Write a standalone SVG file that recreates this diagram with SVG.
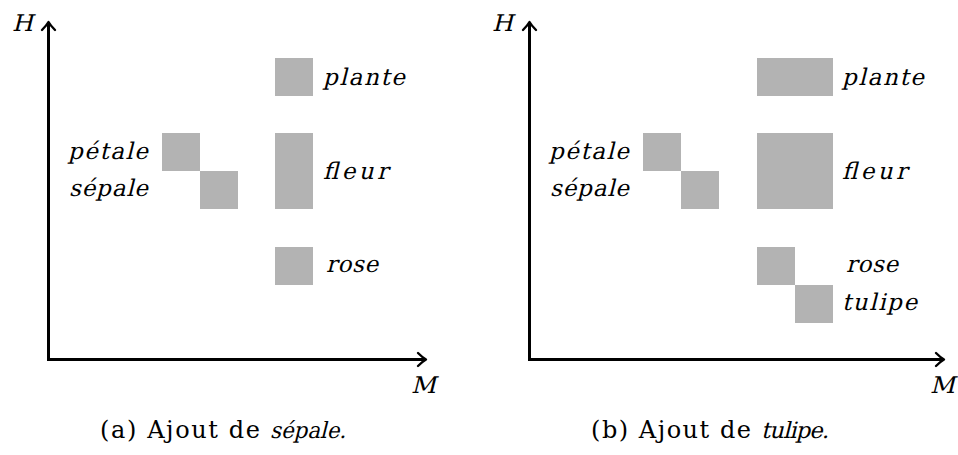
<svg xmlns="http://www.w3.org/2000/svg" width="958" height="455" viewBox="0 0 958 455">
<style>
.box{fill:#b3b3b3;stroke:none}
.lbl{font-family:'DejaVu Serif',serif;font-size:23px;fill:#000}
.cap{font-family:'DejaVu Serif',serif;font-size:24px;fill:#000}
.capi{font-family:'DejaVu Serif',serif;font-size:22.5px;fill:#000}
.axis{fill:none;stroke:#000;stroke-width:3;stroke-linejoin:miter;marker-start:url(#arr);marker-end:url(#arr)}
</style>
<defs>
<marker id="arr" markerUnits="userSpaceOnUse" viewBox="-10 -10 20 20" markerWidth="20" markerHeight="20" refX="0" refY="0" orient="auto-start-reverse" overflow="visible">
<path d="M-7,-6.5 Q-2.5,-2 1,0 Q-2.5,2 -7,6.5" fill="none" stroke="#000" stroke-width="2.4" stroke-linecap="round" stroke-linejoin="round"/>
</marker>
</defs>
<g id="connectors">
<path class="axis" d="M48.5,23 V359.5 H425"/>
<path class="axis" d="M529.5,23 V359.5 H943"/>
</g>
<g id="panel-a">
<text class="lbl" transform="translate(12,31) skewX(-14)" textLength="21" lengthAdjust="spacingAndGlyphs">H</text>
<text class="lbl" transform="translate(411,393) skewX(-14)" textLength="25" lengthAdjust="spacingAndGlyphs">M</text>
<g id="a-plante"><rect class="box" x="275" y="58" width="38" height="38"/><text class="lbl" transform="translate(323,85) skewX(-14)" textLength="82" lengthAdjust="spacing">plante</text></g>
<g id="a-petale"><rect class="box" x="162" y="133" width="38" height="38"/><text class="lbl" transform="translate(68,159) skewX(-14)" textLength="80" lengthAdjust="spacing">pétale</text></g>
<g id="a-sepale"><rect class="box" x="200" y="171" width="38" height="38"/><text class="lbl" transform="translate(69,196) skewX(-14)" textLength="79" lengthAdjust="spacing">sépale</text></g>
<g id="a-fleur"><rect class="box" x="275" y="133" width="38" height="76"/><text class="lbl" transform="translate(323,179) skewX(-14)" textLength="65" lengthAdjust="spacing">fleur</text></g>
<g id="a-rose"><rect class="box" x="275" y="247" width="38" height="38"/><text class="lbl" transform="translate(326,272) skewX(-14)" textLength="52" lengthAdjust="spacing">rose</text></g>
<text class="cap" x="100" y="438" textLength="160" lengthAdjust="spacing">(a) Ajout de</text>
<text class="capi" transform="translate(270,438) skewX(-14)" textLength="76" lengthAdjust="spacingAndGlyphs">sépale.</text>
</g>
<g id="panel-b">
<text class="lbl" transform="translate(492,31) skewX(-14)" textLength="21" lengthAdjust="spacingAndGlyphs">H</text>
<text class="lbl" transform="translate(930,393) skewX(-14)" textLength="25" lengthAdjust="spacingAndGlyphs">M</text>
<g id="b-plante"><rect class="box" x="757" y="58" width="76" height="38"/><text class="lbl" transform="translate(842,85) skewX(-14)" textLength="82" lengthAdjust="spacing">plante</text></g>
<g id="b-petale"><rect class="box" x="643" y="133" width="38" height="38"/><text class="lbl" transform="translate(549,159) skewX(-14)" textLength="80" lengthAdjust="spacing">pétale</text></g>
<g id="b-sepale"><rect class="box" x="681" y="171" width="38" height="38"/><text class="lbl" transform="translate(550,196) skewX(-14)" textLength="79" lengthAdjust="spacing">sépale</text></g>
<g id="b-fleur"><rect class="box" x="757" y="133" width="76" height="76"/><text class="lbl" transform="translate(842,179) skewX(-14)" textLength="65" lengthAdjust="spacing">fleur</text></g>
<g id="b-rose"><rect class="box" x="757" y="247" width="38" height="38"/><text class="lbl" transform="translate(846,272) skewX(-14)" textLength="52" lengthAdjust="spacing">rose</text></g>
<g id="b-tulipe"><rect class="box" x="795" y="285" width="38" height="38"/><text class="lbl" transform="translate(842,310) skewX(-14)" textLength="75" lengthAdjust="spacing">tulipe</text></g>
<text class="cap" x="591" y="438" textLength="160" lengthAdjust="spacing">(b) Ajout de</text>
<text class="capi" transform="translate(761,438) skewX(-14)" textLength="68" lengthAdjust="spacing">tulipe.</text>
</g>
</svg>
